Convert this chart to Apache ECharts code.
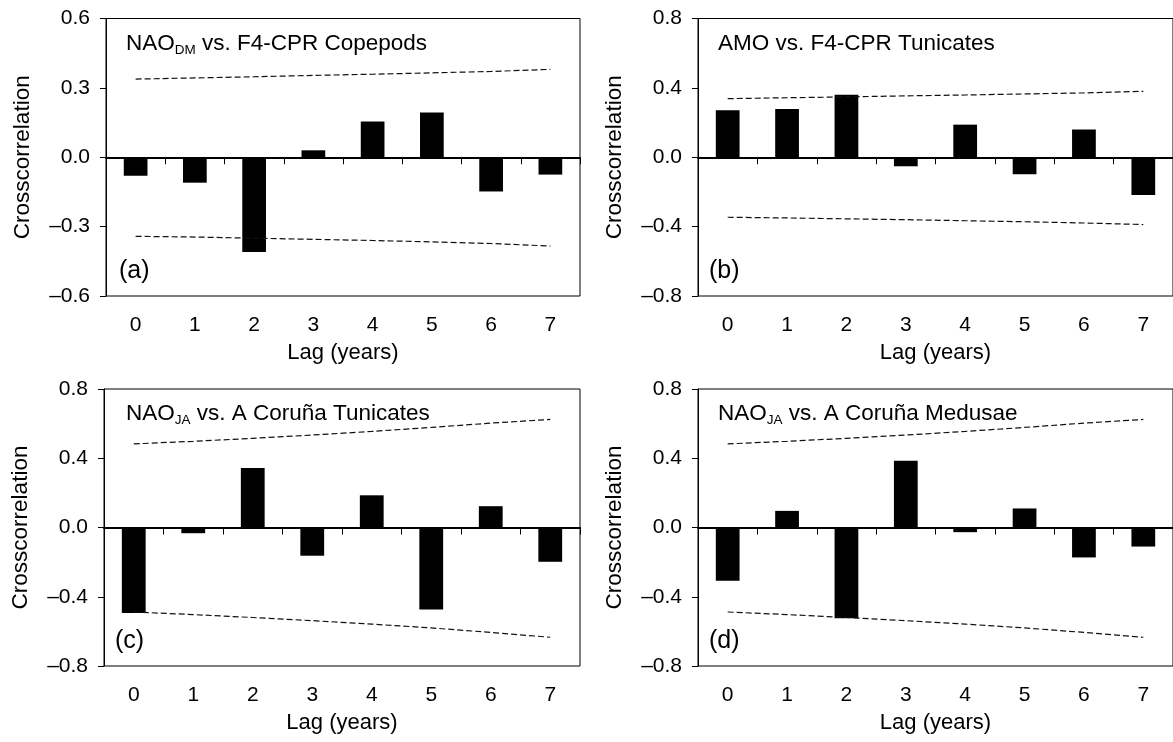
<!DOCTYPE html>
<html>
<head>
<meta charset="utf-8">
<script src="https://cdn.jsdelivr.net/npm/echarts@6/dist/echarts.min.js"></script>
<style>
  html, body { margin: 0; padding: 0; background: #fff; }
  #chart { width: 1173px; height: 742px; }
</style>
</head>
<body>
<div id="chart"></div>
<script>
// lags on the x axis
var lags = ['0', '1', '2', '3', '4', '5', '6', '7'];

// y tick values
var ticksA = [-0.6, -0.3, 0, 0.3, 0.6];
var ticksB = [-0.8, -0.4, 0, 0.4, 0.8];

// (a) NAO_DM vs. F4-CPR Copepods
var barsA = [-0.08, -0.11, -0.41, 0.03, 0.155, 0.193, -0.148, -0.075];
var upperA = [0.338, 0.343, 0.348, 0.354, 0.359, 0.365, 0.371, 0.38];
var lowerA = [-0.342, -0.345, -0.35, -0.355, -0.36, -0.366, -0.373, -0.384];

// (b) AMO vs. F4-CPR Tunicates
var barsB = [0.271, 0.278, 0.361, -0.052, 0.188, -0.098, 0.16, -0.217];
var upperB = [0.338, 0.343, 0.348, 0.354, 0.359, 0.365, 0.371, 0.38];
var lowerB = [-0.346, -0.35, -0.355, -0.36, -0.366, -0.372, -0.379, -0.388];

// (c) NAO_JA vs. A Coruña Tunicates
var barsC = [-0.494, -0.033, 0.344, -0.163, 0.186, -0.473, 0.123, -0.198];
// (d) NAO_JA vs. A Coruña Medusae
var barsD = [-0.307, 0.096, -0.524, 0.386, -0.027, 0.11, -0.173, -0.11];
// significance lines for the A Coruña series (c, d)
var upperJA = [0.483, 0.498, 0.515, 0.534, 0.555, 0.578, 0.603, 0.624];
var lowerJA = [-0.488, -0.503, -0.52, -0.538, -0.558, -0.58, -0.606, -0.634];

var FONT = '"Liberation Sans", Arial, Helvetica, sans-serif';

var panels = [
    {grid: {left: 106, top: 18.5, width: 474, height: 277.5}, ticks: ticksA, bars: barsA, up: upperA, lo: lowerA,
     title: '{m|NAO}{s|DM}{m| vs. F4-CPR Copepods}', tx: 126, ty: 30, letter: '(a)', lx: 119, ly: 257},
    {grid: {left: 698, top: 18.5, width: 476, height: 277.5}, ticks: ticksB, bars: barsB, up: upperB, lo: lowerB,
     title: '{m|AMO vs. F4-CPR Tunicates}', tx: 718, ty: 30, letter: '(b)', lx: 709, ly: 257},
    {grid: {left: 104, top: 389, width: 476, height: 277}, ticks: ticksB, bars: barsC, up: upperJA, lo: lowerJA,
     title: '{m|NAO}{s|JA}{m| vs. A Coruña Tunicates}', tx: 126, ty: 400, letter: '(c)', lx: 115, ly: 627},
    {grid: {left: 698, top: 389, width: 476, height: 277}, ticks: ticksB, bars: barsD, up: upperJA, lo: lowerJA,
     title: '{m|NAO}{s|JA}{m| vs. A Coruña Medusae}', tx: 718, ty: 400, letter: '(d)', lx: 709, ly: 627}
];

function fmt(v) {
    var s = Math.abs(v).toFixed(1);
    return v < -1e-9 ? '\u2013' + s : s;
}

var option = {
    animation: false,
    textStyle: {fontFamily: FONT, color: '#000'},
    grid: [], xAxis: [], yAxis: [], series: [], title: []
};

panels.forEach(function (p, i) {
    option.grid.push(Object.assign({show: true, borderColor: '#000', borderWidth: 1, containLabel: false}, p.grid));

    // axis drawn on zero: line + ticks, no labels
    option.xAxis.push({
        type: 'category', gridIndex: i, data: lags, position: 'bottom', boundaryGap: true,
        axisLine: {show: true, onZero: true, lineStyle: {color: '#000', width: 2}},
        axisTick: {show: true, inside: false, length: 7, lineStyle: {color: '#000', width: 1}},
        axisLabel: {show: false}, splitLine: {show: false}
    });
    // axis at the bottom carrying the labels and the name
    option.xAxis.push({
        type: 'category', gridIndex: i, data: lags, position: 'bottom', boundaryGap: true,
        axisLine: {show: false, onZero: false}, axisTick: {show: false},
        axisLabel: {show: true, fontSize: 21, color: '#000', margin: 19, fontFamily: FONT},
        name: 'Lag (years)', nameLocation: 'middle', nameGap: 46,
        nameTextStyle: {fontSize: 22, color: '#000', fontFamily: FONT},
        splitLine: {show: false}
    });

    option.yAxis.push({
        type: 'value', gridIndex: i,
        min: p.ticks[0], max: p.ticks[p.ticks.length - 1], interval: p.ticks[1] - p.ticks[0],
        axisLine: {show: true, lineStyle: {color: '#000', width: 1}},
        axisTick: {show: true, inside: false, length: 6, lineStyle: {color: '#000'}},
        axisLabel: {fontSize: 21, color: '#000', margin: 16, formatter: fmt, fontFamily: FONT},
        splitLine: {show: false},
        name: 'Crosscorrelation', nameLocation: 'middle', nameGap: 72,
        nameTextStyle: {fontSize: 22.5, color: '#000', fontFamily: FONT}
    });

    option.series.push({
        type: 'bar', xAxisIndex: 2 * i, yAxisIndex: i, data: p.bars,
        barWidth: '40%', itemStyle: {color: '#000'}, silent: true
    });
    [p.up, p.lo].forEach(function (d) {
        option.series.push({
            type: 'line', xAxisIndex: 2 * i, yAxisIndex: i, data: d,
            symbol: 'none', silent: true, z: 3,
            lineStyle: {color: '#111', width: 1.2, type: [6, 3]}
        });
    });

    option.title.push({
        text: p.title, left: p.tx, top: p.ty, padding: 0,
        textStyle: {
            fontWeight: 'normal',
            rich: {
                m: {fontSize: 22.5, lineHeight: 27, fontWeight: 'normal', color: '#000', fontFamily: FONT},
                s: {fontSize: 13.5, lineHeight: 11, verticalAlign: 'bottom', fontWeight: 'normal', color: '#000', fontFamily: FONT}
            }
        }
    });
    option.title.push({
        text: p.letter, left: p.lx, top: p.ly, padding: 0,
        textStyle: {fontSize: 25, fontWeight: 'normal', color: '#000', fontFamily: FONT, lineHeight: 28}
    });
});

var chart = echarts.init(document.getElementById('chart'), null, {renderer: 'canvas'});
chart.setOption(option);
</script>
</body>
</html>
